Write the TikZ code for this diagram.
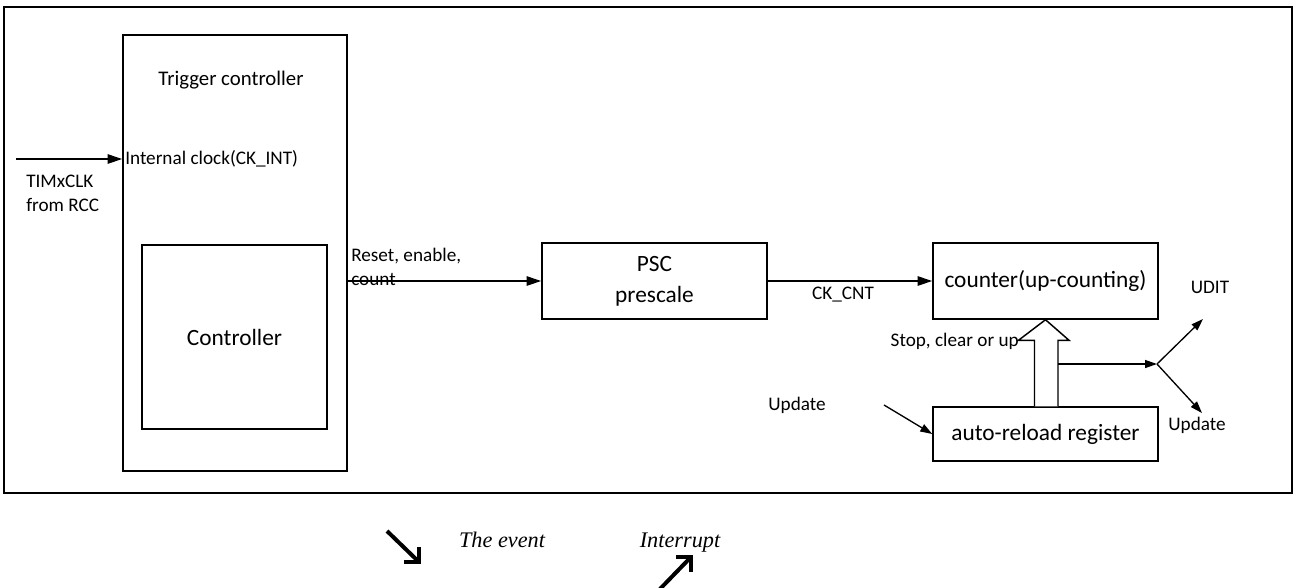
\documentclass[tikz,border=0pt]{standalone}
\usepackage{fontspec}
\setmainfont{Carlito}
\newfontfamily\tnr{Liberation Serif}
\usetikzlibrary{arrows.meta,calc}
\tikzset{
  box/.style={draw, line width=1.1pt, inner sep=0pt, font=\fontsize{17.5}{23}\selectfont, align=center},
  lbl/.style={inner sep=0pt, font=\fontsize{14.4}{18}\selectfont, align=left},
  conn/.style={line width=1.3pt, -{Triangle[length=11pt,width=7pt]}},
  thin/.style={line width=1pt, -{Triangle[length=9pt,width=6pt]}},
  fat/.style={line width=3pt, line cap=butt, miter limit=10},
  ital/.style={inner sep=0pt, anchor=base, font=\tnr\itshape\fontsize{16.7}{20}\selectfont}
}
\begin{document}
\begin{tikzpicture}[x=0.75pt,y=-0.75pt]
\useasboundingbox (0,0) rectangle (1297,587);
% frame and boxes
\node[draw, line width=1.1pt, inner sep=0pt, minimum width=966pt, minimum height=364.5pt] (frame) at (648,250) {};
\node[box, minimum width=168pt, minimum height=327pt] (trig) at (235,253) {};
\node[box, minimum width=138.75pt, minimum height=138pt] (ctrl) at (234.5,337) {Controller};
\node[box, minimum width=168.75pt, minimum height=57pt] (psc) at (654.5,281) {PSC\\prescale};
\node[box, minimum width=168.75pt, minimum height=57pt] (cnt) at (1045.5,281) {counter(up-counting)};
\node[box, minimum width=168.75pt, minimum height=40.5pt] (arr) at (1045.5,434) {auto-reload register};
% labels
\node[inner sep=0pt, font=\fontsize{15.6}{19}\selectfont] (tctext) at (231,80) {Trigger controller};
\node[lbl, anchor=west] (intclk) at (125,159) {Internal clock(CK\_INT)};
\node[lbl, anchor=north west] (timx) at (26,175) {TIMxCLK\\from RCC};
\node[lbl, anchor=north west] (reset) at (351,248) {Reset, enable,\\count};
\node[lbl] (ckcnt) at (843,295) {CK\_CNT};
\node[lbl] (upd1) at (797,405) {Update};
\node[lbl, anchor=east] (stop) at (1019,341) {Stop, clear or up};
\node[lbl] (udit) at (1210,287) {UDIT};
\node[lbl] (upd2) at (1197,425) {Update};
\node[ital] (evt) at (502,547) {The event};
\node[ital] (intr) at (680,547) {Interrupt};
% connectors
\coordinate (clkin) at (16,159);
\draw[conn] (clkin) -- (trig.west |- clkin);
\coordinate (rst) at (347,281);
\draw[conn] (trig.east |- rst) -- (psc.west);
\draw[conn] (psc.east) -- (cnt.west);
\coordinate (updsrc) at (884,405);
\draw[thin] (updsrc) -- (arr.west);
% hollow arrow
\draw[line width=1.1pt, fill=white]
  ($(arr.north)+(-11,0)$) -- ++(0,-66) -- ++(-16,0) -- ($(cnt.south)$) -- ($(arr.north)+(23.5,-66)$) -- ++(-11,0) -- ($(arr.north)+(12.5,0)$);
\coordinate (shaftR) at (1058,364);
\coordinate (J) at (1157,364);
\draw[thin] (shaftR) -- (J);
\coordinate (uditTip) at (1203,319);
\coordinate (updTip) at (1202,413);
\draw[thin] (J) -- (uditTip);
\draw[thin] (J) -- (updTip);
% thick decorative arrows at bottom
\coordinate (a1s) at (387,531);
\coordinate (a1e) at (419,562);
\draw[fat] (a1s) -- (a1e);
\draw[fat] ($(a1e)+(-15,0)$) -- (a1e) -- ($(a1e)+(0,-15)$);
\coordinate (a2s) at (660,589);
\coordinate (a2e) at (691,557);
\draw[fat] (a2s) -- (a2e);
\draw[fat] ($(a2e)+(-15,0)$) -- (a2e) -- ($(a2e)+(0,15)$);
\end{tikzpicture}
\end{document}
